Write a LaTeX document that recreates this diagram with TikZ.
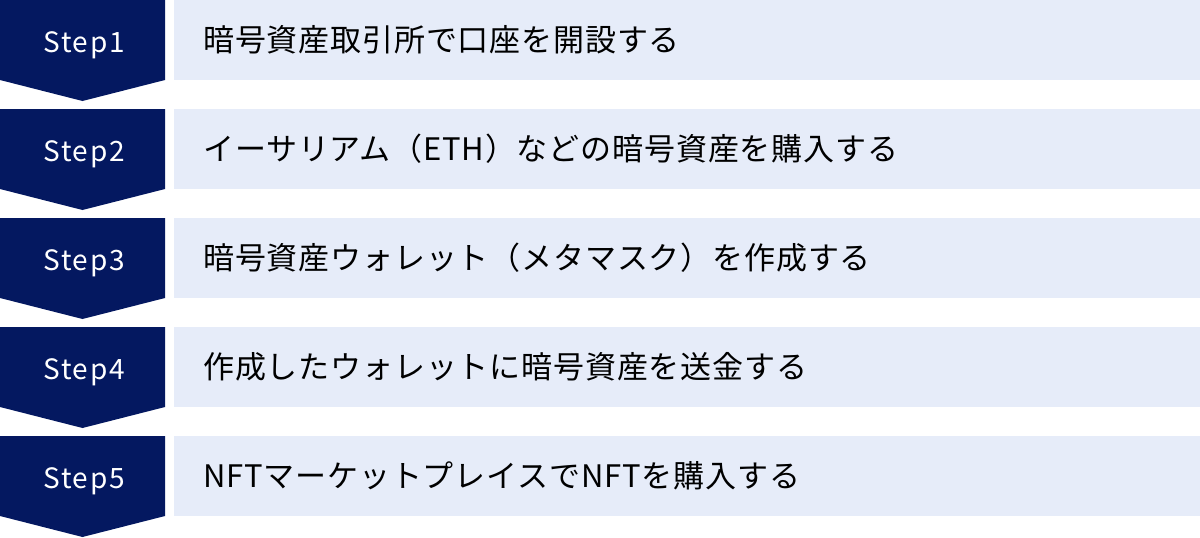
\documentclass[tikz,border=0pt]{standalone}
\usepackage{fontspec}
\newfontfamily\jpfont[LetterSpace=2.7]{Noto Sans CJK JP}
\newfontfamily\stepfont[LetterSpace=6]{Noto Sans CJK JP}
\definecolor{navy}{RGB}{4,24,96}
\definecolor{pale}{RGB}{230,236,249}
\tikzset{
    steplabel/.style={text=white, inner sep=0pt, anchor=base,
        font=\stepfont\fontsize{28}{32}\selectfont},
    rowbox/.style={fill=pale, inner sep=0pt, minimum width=1026pt,
        minimum height=80pt, anchor=north west},
    rowtext/.style={anchor=west, inner sep=0pt,
        font=\jpfont\fontsize{31}{36}\selectfont}
}
\begin{document}
\begin{tikzpicture}[x=1pt, y=-1pt]
    \useasboundingbox (0, 0) rectangle (1200, 538);
    \foreach \i/\txt in {1/暗号資産取引所で口座を開設する,
        2/イーサリアム（ETH）などの暗号資産を購入する,
        3/暗号資産ウォレット（メタマスク）を作成する,
        4/作成したウォレットに暗号資産を送金する,
        5/NFTマーケットプレイスでNFTを購入する} {
        \pgfmathsetmacro{\top}{(\i-1)*109}
        \fill[navy] (0, \top) -- ++(165, 0) -- ++(0, 80) -- ++(-82.5, 21)
            -- ++(-82.5, -21) -- cycle;
        \node[steplabel] (s\i) at (84, \top+52) {Step\i};
        \node[rowbox] (r\i) at (174, \top) {};
        \node[rowtext] (t\i) at ([xshift=29pt]r\i.west) {\txt};
    }
\end{tikzpicture}
\end{document}
